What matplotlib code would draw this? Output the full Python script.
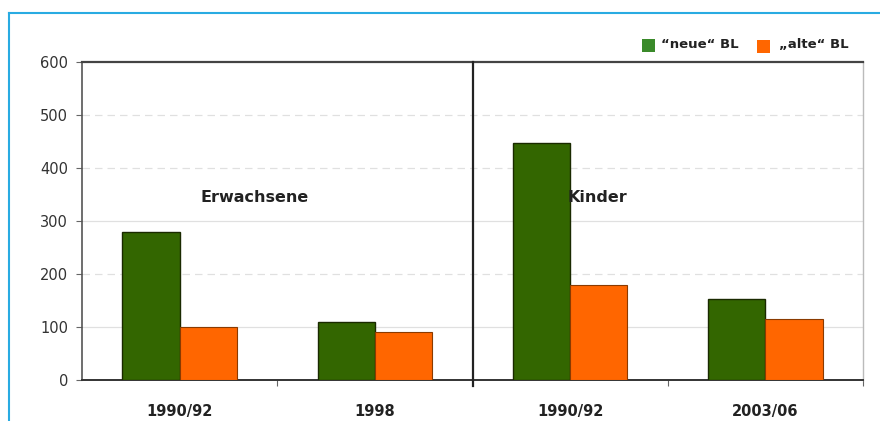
import matplotlib
matplotlib.use("Agg")
import matplotlib.pyplot as plt
from matplotlib.lines import Line2D
from matplotlib.patches import Rectangle
import numpy as np

categories = ["1990/92", "1998", "1990/92", "2003/06"]
neue_bl = [280, 109, 448, 152]
alte_bl = [100, 90, 180, 115]
series_labels = ["\u201cneue\u201c BL", "\u201ealte\u201c BL"]
group_labels = ["Erwachsene", "Kinder"]
y_ticks = [0, 100, 200, 300, 400, 500, 600]

green = "#336600"
orange = "#FF6600"

W, H = 880, 421
fig = plt.figure(figsize=(W / 100, H / 100), dpi=100)
fig.patch.set_facecolor("white")

ax = fig.add_axes([82 / W, 1 - 380 / H, (863 - 82) / W, (380 - 62) / H])

x = np.arange(len(categories))
bw = 0.293
ax.bar(x - bw / 2, neue_bl, bw, color=green, edgecolor="#1a2a00", linewidth=1.0, zorder=3)
ax.bar(x + bw / 2, alte_bl, bw, color=orange, edgecolor="#8a3a00", linewidth=0.8, zorder=3)

ax.set_xlim(-0.5, 3.5)
ax.set_ylim(0, 600)

# horizontal grid
for v in y_ticks[1:-1]:
    ls = "-" if v in (100, 300) else (0, (6, 4))
    ax.axhline(v, color="#e0e0e0", lw=0.9, ls=ls, zorder=1)

# panel separator
ax.plot([1.5, 1.5], [-12, 600], color="#222222", lw=1.6, clip_on=False, zorder=4)

ax.spines["left"].set_color("#555555")
ax.spines["left"].set_linewidth(1.2)
ax.spines["bottom"].set_color("#333333")
ax.spines["bottom"].set_linewidth(1.4)
ax.spines["top"].set_color("#444444")
ax.spines["top"].set_linewidth(1.6)
ax.spines["right"].set_color("#bbbbbb")
ax.spines["right"].set_linewidth(1.0)

ax.set_yticks(y_ticks)
ax.set_yticklabels([str(v) for v in y_ticks], fontsize=10.5, color="#333333",
                   family="DejaVu Sans")
ax.tick_params(axis="y", length=4, width=0.8, color="#666666", pad=6)

ax.set_xticks([0.5, 2.5, 3.5])
ax.set_xticklabels([])
ax.tick_params(axis="x", length=4, width=0.8, color="#666666")
for xi, lab in zip(x, categories):
    ax.text(xi, -60, lab, ha="center", va="center", fontsize=10.5,
            fontweight="bold", color="#222222")

ax.text(0.386, 345, group_labels[0], ha="center", va="center", fontsize=11.5,
        fontweight="semibold", color="#222222")
ax.text(2.14, 345, group_labels[1], ha="center", va="center", fontsize=11.5,
        fontweight="semibold", color="#222222")

# legend
sq = 13
fig.patches.append(Rectangle((642 / W, 1 - 52 / H), sq / W, sq / H,
                             transform=fig.transFigure, facecolor="#3a8a2a",
                             edgecolor="none"))
fig.text(661 / W, 1 - 45 / H, series_labels[0], fontsize=9.5, fontweight="bold",
         va="center", ha="left", color="#222222")
fig.patches.append(Rectangle((757 / W, 1 - 53 / H), sq / W, sq / H,
                             transform=fig.transFigure, facecolor=orange,
                             edgecolor="none"))
fig.text(779 / W, 1 - 45 / H, series_labels[1], fontsize=9.5, fontweight="bold",
         va="center", ha="left", color="#222222")

# frame lines
border = "#29ABE2"
fig.add_artist(Line2D([9 / W, 1.0], [1 - 13 / H, 1 - 13 / H], color=border, lw=1.5,
                      transform=fig.transFigure))
fig.add_artist(Line2D([9 / W, 9 / W], [0, 1 - 13 / H], color=border, lw=1.5,
                      transform=fig.transFigure))

fig.savefig("out.png", dpi=100, facecolor="white")
